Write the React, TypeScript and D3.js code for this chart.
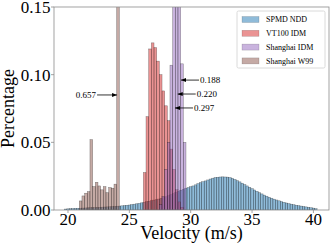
import React from "react";
import * as d3 from "d3";

// ---- data ----
const seriesNames = ["SPMD NDD", "VT100 IDM", "Shanghai IDM", "Shanghai W99"];
const seriesColors = ["#1f77b4", "#d62728", "#9467bd", "#8c564b"];

const spmdStart = 19.7;
const spmdWidth = 0.2;
const spmdValues = [
  0.0007, 0.0009, 0.001, 0.0011, 0.0012, 0.0013, 0.0013, 0.0014, 0.0015, 0.0016,
  0.0017, 0.0018, 0.0018, 0.0019, 0.002, 0.0021, 0.0022, 0.0023, 0.0024, 0.0025,
  0.0026, 0.0028, 0.0029, 0.0031, 0.0033, 0.0035, 0.0037, 0.004, 0.0043, 0.0046,
  0.0049, 0.0053, 0.0057, 0.0061, 0.0065, 0.0069, 0.0073, 0.0077, 0.0081, 0.0086,
  0.0091, 0.0098, 0.0106, 0.0114, 0.0122, 0.013, 0.0138, 0.0146, 0.0153, 0.016,
  0.0166, 0.0172, 0.0178, 0.0186, 0.0195, 0.0203, 0.0209, 0.0215, 0.0222, 0.0229,
  0.0235, 0.024, 0.0242, 0.0244, 0.0245, 0.0244, 0.0243, 0.024, 0.0234, 0.0226,
  0.0217, 0.0208, 0.0198, 0.0188, 0.0178, 0.0168, 0.0158, 0.0148, 0.0138, 0.0128,
  0.0119, 0.011, 0.0102, 0.0094, 0.0087, 0.008, 0.0074, 0.0068, 0.0062, 0.0057,
  0.0052, 0.0047, 0.0043, 0.0039, 0.0035, 0.0032, 0.0029, 0.0026, 0.0023, 0.002,
  0.0017, 0.0014, 0.001,
];

const vt100Start = 26.14;
const vt100Width = 0.2176;
const vt100Values = [
  0.0277, 0.069, 0.119, 0.1235, 0.12, 0.11, 0.1, 0.088, 0.077, 0.066, 0.045, 0.03,
  0.015, 0.006, 0.002,
];

const shIdmStart = 27.44;
const shIdmWidth = 0.2176;
const shIdmValues = [0.004, 0.01, 0.03, 0.05, 0.107, 0.297, 0.22, 0.188, 0.108, 0.05];

const shW99Start = 20.92;
const shW99Width = 0.2176;
const shW99Values = [
  0.0067, 0.0104, 0.0124, 0.0136, 0.052, 0.0173, 0.0205, 0.0178, 0.0149, 0.0173,
  0.0128, 0.0166, 0.0161, 0.0191, 0.657,
];

const xTicks = [20, 25, 30, 35, 40];
const yTicks = [0, 0.05, 0.1, 0.15];

const annotationLabels = ["0.657", "0.188", "0.220", "0.297"];
const annotationTipX = [24.0, 29.21, 28.94, 28.72];
const annotationTipY = [0.085, 0.096, 0.0857, 0.0754];
const annotationSide = ["left", "right", "right", "right"];

// ---- layout ----
const W = 332;
const H = 249;
const M = { left: 54, right: 329, top: 7, bottom: 210 };
const FONT = "'Liberation Serif', 'Times New Roman', serif";

export default function App() {
  const x = d3.scaleLinear().domain([18.86, 41.27]).range([M.left, M.right]);
  const y = d3.scaleLinear().domain([0, 0.15]).range([M.bottom, M.top]);

  const series = [
    { start: spmdStart, width: spmdWidth, values: spmdValues },
    { start: vt100Start, width: vt100Width, values: vt100Values },
    { start: shIdmStart, width: shIdmWidth, values: shIdmValues },
    { start: shW99Start, width: shW99Width, values: shW99Values },
  ];

  const spine = "#8c8c8c";

  return (
    <svg
      width={W}
      height={H}
      style={{ position: "absolute", left: 0, top: 0, background: "#fff" }}
      fontFamily={FONT}
    >
      <defs>
        <clipPath id="plotclip">
          <rect x={M.left} y={M.top} width={M.right - M.left} height={M.bottom - M.top} />
        </clipPath>
        <marker
          id="arrowhead"
          viewBox="0 0 10 10"
          refX="10"
          refY="5"
          markerWidth="5"
          markerHeight="5"
          markerUnits="userSpaceOnUse"
          orient="auto"
        >
          <path d="M0,1 L10,5 L0,9 z" fill="#000" />
        </marker>
      </defs>

      <g clipPath="url(#plotclip)">
        {series.map((s, si) =>
          s.values.map((v, i) => {
            const x0 = x(s.start + i * s.width);
            const x1 = x(s.start + (i + 1) * s.width);
            return (
              <rect
                key={`${si}-${i}`}
                x={x0}
                y={y(v)}
                width={x1 - x0}
                height={y(0) - y(v)}
                fill={seriesColors[si]}
                fillOpacity={0.5}
                stroke="#000"
                strokeOpacity={0.45}
                strokeWidth={0.5}
              />
            );
          })
        )}
      </g>

      {/* annotations */}
      {annotationLabels.map((lab, i) => {
        const tx = x(annotationTipX[i]);
        const ty = y(annotationTipY[i]);
        const left = annotationSide[i] === "left";
        const tail = left ? tx - 20 : tx + 18;
        return (
          <g key={lab}>
            <line
              x1={tail}
              y1={ty}
              x2={tx}
              y2={ty}
              stroke="#000"
              strokeWidth={0.8}
              markerEnd="url(#arrowhead)"
            />
            <text
              x={left ? tail - 1 : tail + 1}
              y={ty}
              dy="0.35em"
              fontSize={9}
              textAnchor={left ? "end" : "start"}
              fill="#000"
            >
              {lab}
            </text>
          </g>
        );
      })}

      {/* frame */}
      <rect
        x={M.left}
        y={M.top}
        width={M.right - M.left}
        height={M.bottom - M.top}
        fill="none"
        stroke={spine}
        strokeWidth={0.8}
      />

      {/* x ticks */}
      {xTicks.map((t) => (
        <g key={t}>
          <line x1={x(t)} x2={x(t)} y1={M.bottom} y2={M.bottom + 3} stroke={spine} strokeWidth={0.8} />
          <text x={x(t)} y={225} fontSize={17} textAnchor="middle" fill="#000">
            {t}
          </text>
        </g>
      ))}
      {/* y ticks */}
      {yTicks.map((t) => (
        <g key={t}>
          <line x1={M.left - 3} x2={M.left} y1={y(t)} y2={y(t)} stroke={spine} strokeWidth={0.8} />
          <text x={M.left - 3.5} y={y(t)} dy="0.35em" fontSize={17} textAnchor="end" fill="#000">
            {t.toFixed(2)}
          </text>
        </g>
      ))}

      <text x={(M.left + M.right) / 2} y={239} fontSize={18} textAnchor="middle" fill="#000">
        Velocity (m/s)
      </text>
      <text
        transform={`translate(14,${(M.top + M.bottom) / 2}) rotate(-90)`}
        fontSize={18}
        textAnchor="middle"
        fill="#000"
      >
        Percentage
      </text>

      {/* legend */}
      <g>
        <rect x={237} y={11} width={88} height={57} fill="#fff" fillOpacity={0.85} stroke="#d0d0d0" strokeWidth={0.8} rx={1.5} />
        {seriesNames.map((n, i) => (
          <g key={n}>
            <rect
              x={242}
              y={16.5 + i * 13.8}
              width={17}
              height={6}
              fill={seriesColors[i]}
              fillOpacity={0.5}
              stroke="#000"
              strokeOpacity={0.25}
              strokeWidth={0.5}
            />
            <text x={266} y={19.5 + i * 13.8} dy="0.35em" fontSize={8} fill="#000">
              {n}
            </text>
          </g>
        ))}
      </g>
    </svg>
  );
}
